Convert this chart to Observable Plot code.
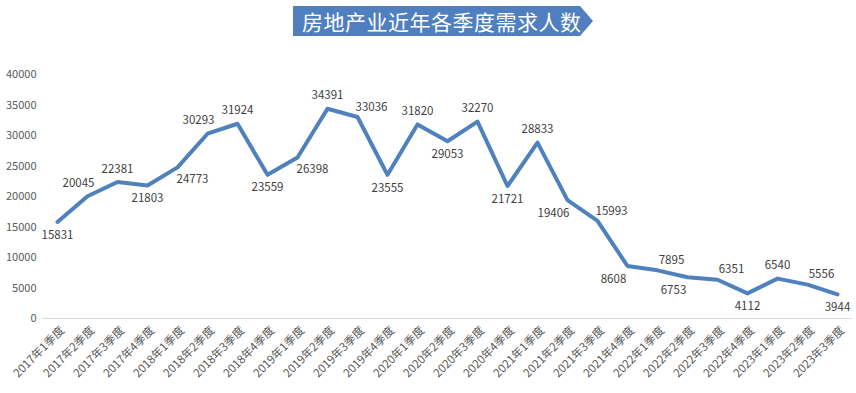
<!DOCTYPE html>
<html>
<head>
<meta charset="utf-8">
<script src="https://cdn.jsdelivr.net/npm/d3@7"></script>
<script src="https://cdn.jsdelivr.net/npm/@observablehq/plot@0.6"></script>
<style>
  html, body { margin: 0; padding: 0; background: #fff; }
  #wrap { position: relative; width: 856px; height: 393px; overflow: hidden; }
  #title {
    position: absolute; left: 293px; top: 6px; width: 300px; height: 30px;
    background: #4F7FBE;
    clip-path: polygon(0 0, 287px 0, 300px 15px, 287px 30px, 0 30px);
    color: #fff; font-family: "Noto Sans CJK SC", sans-serif; font-size: 21px;
    line-height: 30px; padding-left: 9px; box-sizing: border-box; letter-spacing: 0.5px;
  }
  #chart { position: absolute; left: 0; top: 40px; }
</style>
</head>
<body>
<div id="wrap">
  <div id="title">房地产业近年各季度需求人数</div>
  <div id="chart"></div>
</div>
<script>
const quarters = [
  "2017年1季度","2017年2季度","2017年3季度","2017年4季度",
  "2018年1季度","2018年2季度","2018年3季度","2018年4季度",
  "2019年1季度","2019年2季度","2019年3季度","2019年4季度",
  "2020年1季度","2020年2季度","2020年3季度","2020年4季度",
  "2021年1季度","2021年2季度","2021年3季度","2021年4季度",
  "2022年1季度","2022年2季度","2022年3季度","2022年4季度",
  "2023年1季度","2023年2季度","2023年3季度"
];
const demand = [
  15831, 20045, 22381, 21803,
  24773, 30293, 31924, 23559,
  26398, 34391, 33036, 23555,
  31820, 29053, 32270, 21721,
  28833, 19406, 15993, 8608,
  7895, 6753, 6351, 4112,
  6540, 5556, 3944
];
const yTicks = [0, 5000, 10000, 15000, 20000, 25000, 30000, 35000, 40000];

const data = quarters.map((q, i) => {
  const v = demand[i];
  const prev = i > 0 ? demand[i - 1] : null;
  const next = i < demand.length - 1 ? demand[i + 1] : null;
  const nb = [prev, next].filter(d => d !== null);
  const avg = d3.mean(nb);
  const above = v > avg;
  let side = 0;
  if (prev !== null && next !== null) {
    const rising = prev < v && v < next;
    const falling = prev > v && v > next;
    if (rising) side = above ? -1 : 1;
    else if (falling) side = above ? 1 : -1;
  }
  return {q, v, above, side};
});

const font = "'Noto Sans CJK SC', 'Microsoft YaHei', sans-serif";

const chart = Plot.plot({
  width: 856,
  height: 353,
  marginLeft: 42,
  marginRight: 4,
  marginTop: 34,
  marginBottom: 75,
  style: {fontFamily: font, fontSize: "11px", background: "transparent"},
  x: {type: "point", domain: quarters, padding: 0.5, label: null},
  y: {domain: [0, 40000], ticks: yTicks, label: null},
  marks: [
    Plot.ruleY([0], {stroke: "#d9d9d9", strokeWidth: 1}),
    Plot.axisY({ticks: yTicks, tickSize: 0, tickPadding: 6, tickFormat: d => String(d), fill: "#595959", fontSize: 11, label: null}),
    Plot.axisX({tickSize: 0, tickPadding: 10, dx: 5, tickRotate: -45, fill: "#595959", fontSize: 11.5, label: null}),
    Plot.line(data, {x: "q", y: "v", stroke: "#4F81BD", strokeWidth: 4, strokeLinejoin: "round", strokeLinecap: "round"}),
    Plot.text(data.filter(d => d.above && d.side === 0), {x: "q", y: "v", text: d => String(d.v), dy: -13, fill: "#404040", fontSize: 11.5}),
    Plot.text(data.filter(d => d.above && d.side === 1), {x: "q", y: "v", text: d => String(d.v), dy: -10, dx: 14, fill: "#404040", fontSize: 11.5}),
    Plot.text(data.filter(d => d.above && d.side === -1), {x: "q", y: "v", text: d => String(d.v), dy: -13, dx: -9, fill: "#404040", fontSize: 11.5}),
    Plot.text(data.filter(d => !d.above && d.side === 0), {x: "q", y: "v", text: d => String(d.v), dy: 13, fill: "#404040", fontSize: 11.5}),
    Plot.text(data.filter(d => !d.above && d.side === 1), {x: "q", y: "v", text: d => String(d.v), dy: 12, dx: 15, fill: "#404040", fontSize: 11.5}),
    Plot.text(data.filter(d => !d.above && d.side === -1), {x: "q", y: "v", text: d => String(d.v), dy: 13, dx: -14, fill: "#404040", fontSize: 11.5})
  ]
});
document.getElementById("chart").appendChild(chart);
</script>
</body>
</html>
